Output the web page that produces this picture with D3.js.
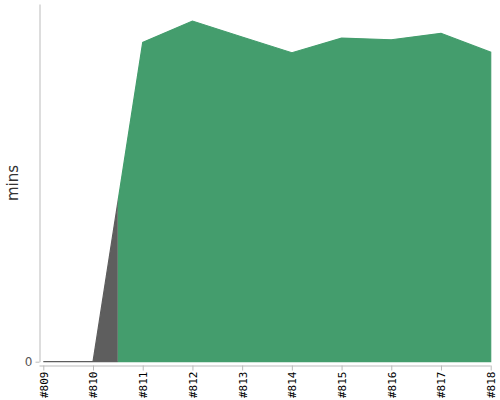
<!DOCTYPE html>
<html>
<head>
<meta charset="utf-8">
<script src="https://cdn.jsdelivr.net/npm/d3@7"></script>
<style>
  body { margin: 0; background: #fff; }
  .x-axis text { font-family: "DejaVu Sans Mono", monospace; font-size: 11px; fill: #000; }
  .y-axis text { font-family: "DejaVu Sans", sans-serif; font-size: 12px; fill: #555; }
  .domain, .tick line { stroke: #bbb; }
</style>
</head>
<body>
<script>
// build numbers along the x axis
var builds = [809, 810, 811, 812, 813, 814, 815, 816, 817, 818];
// duration of each build, in minutes
var durations = [0, 0, 18.75, 20.0, 19.06, 18.14, 19.0, 18.9, 19.28, 18.17];
// build result, decides the colour of the slice around each build
var results = ["aborted", "aborted", "success", "success", "success", "success", "success", "success", "success", "success"];
var yMax = 21;

var colors = { success: "#449d6d", aborted: "#5e5e5e" };

var width = 500,
    height = 400;

var x = d3.scaleLinear()
    .domain([builds[0], builds[builds.length - 1]])
    .range([43.3, 490.7]);

var y = d3.scaleLinear()
    .domain([0, yMax])
    .range([361.7, 4]);

var svg = d3.select("body").append("svg")
    .attr("width", width)
    .attr("height", height);

var data = builds.map(function(b, i) {
    return { build: b, mins: durations[i], result: results[i] };
});

// group neighbouring builds with the same result so there are no seams
var runs = [];
data.forEach(function(d) {
    var last = runs[runs.length - 1];
    if (last && last.result === d.result) last.to = d.build;
    else runs.push({ result: d.result, from: d.build, to: d.build });
});

var area = d3.area()
    .x(function(d) { return x(d.build); })
    .y0(y(0))
    .y1(function(d) { return y(d.mins); });

var defs = svg.append("defs");
runs.forEach(function(r, i) {
    var x0 = Math.max(x.range()[0] - 2, x(r.from - 0.5)),
        x1 = Math.min(x.range()[1] + 2, x(r.to + 0.5));
    defs.append("clipPath")
        .attr("id", "clip" + i)
        .append("rect")
        .attr("x", x0)
        .attr("y", 0)
        .attr("width", x1 - x0)
        .attr("height", height);
});

svg.selectAll(".slice")
    .data(runs)
    .enter().append("path")
    .attr("class", "slice")
    .attr("clip-path", function(d, i) { return "url(#clip" + i + ")"; })
    .attr("d", area(data))
    .style("fill", function(d) { return colors[d.result]; })
    .style("stroke", function(d) { return colors[d.result]; })
    .style("stroke-width", 1.2);

// y axis, only the zero tick
svg.append("g")
    .attr("class", "y-axis")
    .attr("transform", "translate(39.5,0)")
    .call(d3.axisLeft(y).tickValues([0]).tickSize(4).tickSizeOuter(0));

// x axis sits a few pixels under the area
var xAxis = svg.append("g")
    .attr("class", "x-axis")
    .attr("transform", "translate(0,365.5)")
    .call(d3.axisBottom(x)
        .tickValues(builds)
        .tickFormat(function(d) { return "#" + d; })
        .tickSize(5)
        .tickSizeOuter(0));

xAxis.select(".domain").attr("d", "M39.5,0.5H" + x.range()[1]);

xAxis.selectAll(".tick text")
    .attr("transform", "rotate(-90)")
    .attr("x", -6)
    .attr("y", 0)
    .attr("dy", ".35em")
    .style("text-anchor", "end");

svg.append("text")
    .attr("transform", "translate(18,183) rotate(-90)")
    .style("text-anchor", "middle")
    .style("font-family", "DejaVu Sans, sans-serif")
    .style("font-size", "15px")
    .style("fill", "#333")
    .text("mins");
</script>
</body>
</html>
